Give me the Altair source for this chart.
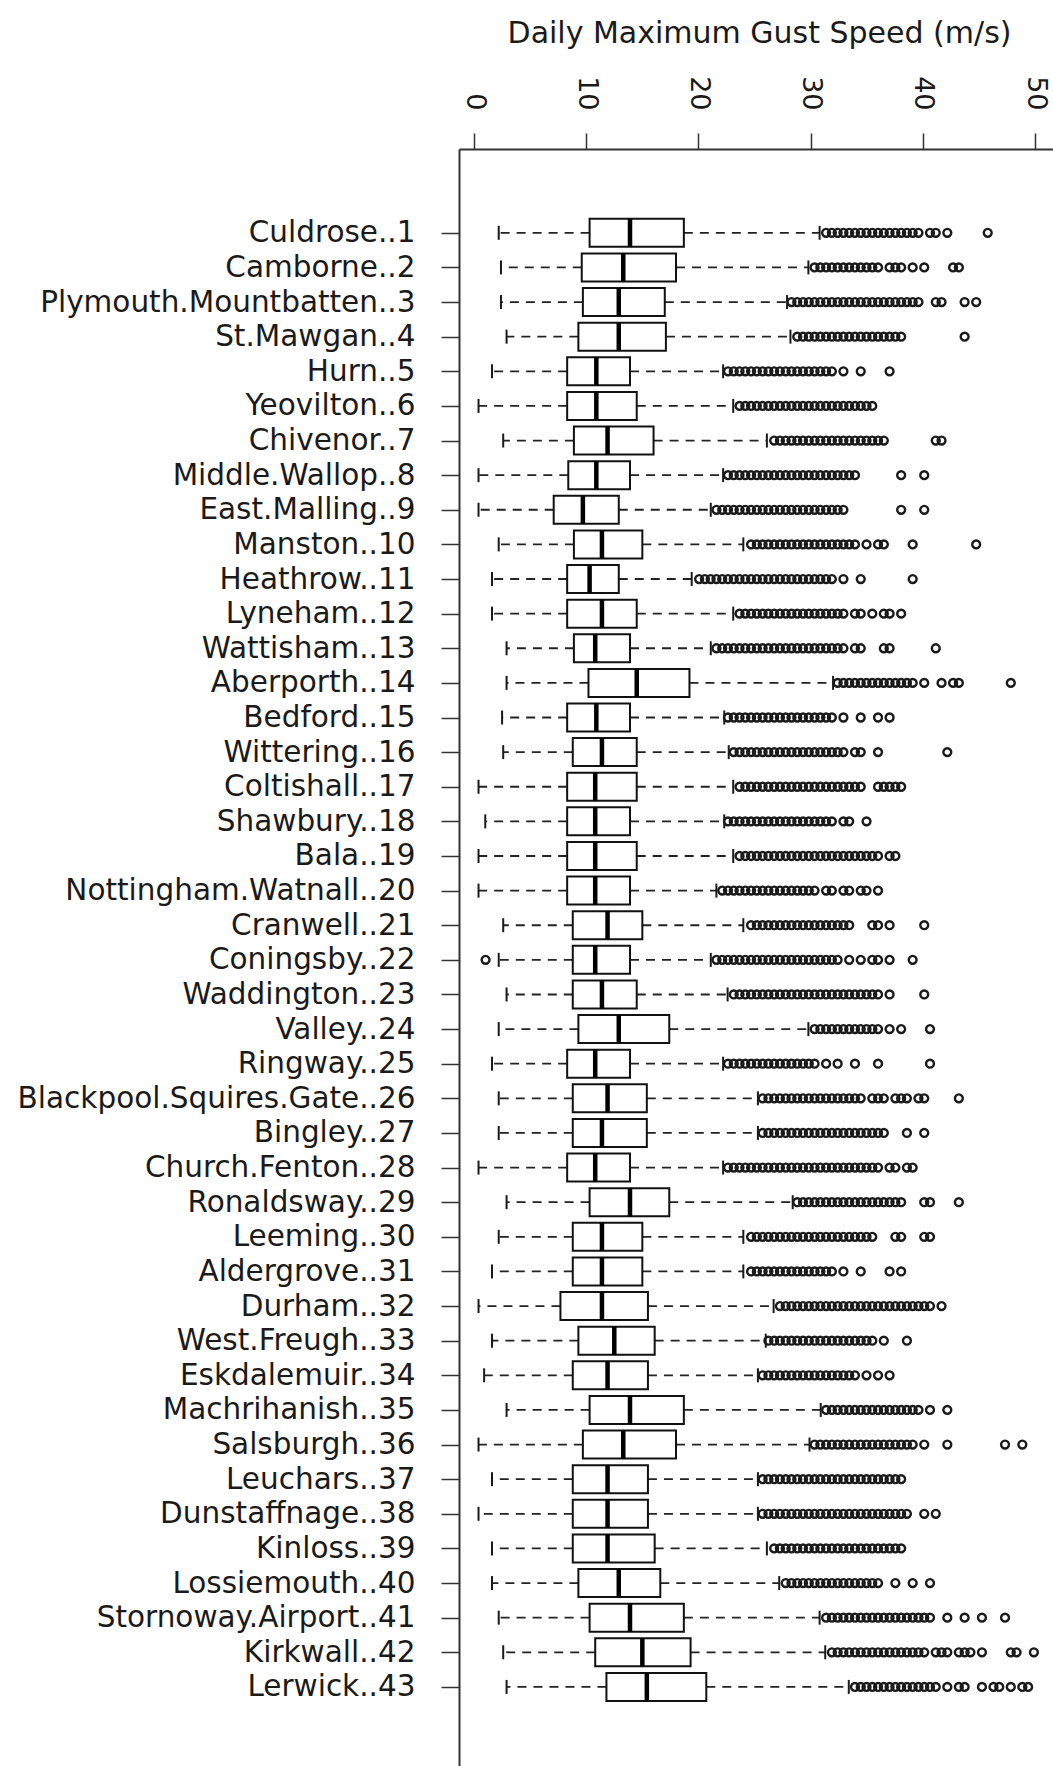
import altair as alt
import pandas as pd

# Daily maximum gust speed per UK station: box-plot summary (m/s)
KT_TO_MS = 0.5144

stations = [
    "Culdrose..1", "Camborne..2", "Plymouth.Mountbatten..3", "St.Mawgan..4",
    "Hurn..5", "Yeovilton..6", "Chivenor..7", "Middle.Wallop..8",
    "East.Malling..9", "Manston..10", "Heathrow..11", "Lyneham..12",
    "Wattisham..13", "Aberporth..14", "Bedford..15", "Wittering..16",
    "Coltishall..17", "Shawbury..18", "Bala..19", "Nottingham.Watnall..20",
    "Cranwell..21", "Coningsby..22", "Waddington..23", "Valley..24",
    "Ringway..25", "Blackpool.Squires.Gate..26", "Bingley..27",
    "Church.Fenton..28", "Ronaldsway..29", "Leeming..30", "Aldergrove..31",
    "Durham..32", "West.Freugh..33", "Eskdalemuir..34", "Machrihanish..35",
    "Salsburgh..36", "Leuchars..37", "Dunstaffnage..38", "Kinloss..39",
    "Lossiemouth..40", "Stornoway.Airport..41", "Kirkwall..42", "Lerwick..43",
]

lower_whisker = [2.2, 2.4, 2.4, 2.9, 1.6, 0.4, 2.6, 0.4, 0.4, 2.2, 1.6, 1.6,
                 2.9, 2.9, 2.5, 2.6, 0.4, 1.0, 0.4, 0.4, 2.6, 2.2, 2.9, 2.2,
                 1.6, 2.2, 2.2, 0.4, 2.9, 2.2, 1.6, 0.4, 1.6, 0.9, 2.9, 0.4,
                 1.6, 0.4, 1.6, 1.6, 2.2, 2.6, 2.9]
q1 = [10.3, 9.6, 9.7, 9.3, 8.3, 8.3, 8.9, 8.4, 7.1, 8.9, 8.3, 8.3,
      8.9, 10.2, 8.3, 8.8, 8.3, 8.3, 8.3, 8.3, 8.8, 8.8, 8.8, 9.3,
      8.3, 8.8, 8.8, 8.3, 10.3, 8.8, 8.8, 7.7, 9.3, 8.8, 10.3, 9.7,
      8.8, 8.8, 8.8, 9.3, 10.3, 10.8, 11.8]
median = [13.9, 13.3, 12.9, 12.9, 10.9, 10.9, 11.9, 10.9, 9.7, 11.4, 10.3, 11.4,
          10.8, 14.5, 10.9, 11.4, 10.8, 10.8, 10.8, 10.8, 11.9, 10.8, 11.4, 12.9,
          10.8, 11.9, 11.4, 10.8, 13.9, 11.4, 11.4, 11.4, 12.5, 11.9, 13.9, 13.3,
          11.9, 11.9, 11.9, 12.9, 13.9, 15.0, 15.4]
q3 = [18.7, 18.0, 17.0, 17.1, 13.9, 14.5, 16.0, 13.9, 12.9, 15.0, 12.9, 14.5,
      13.9, 19.2, 13.9, 14.5, 14.5, 13.9, 14.5, 13.9, 15.0, 13.9, 14.5, 17.4,
      13.9, 15.4, 15.4, 13.9, 17.4, 15.0, 15.0, 15.5, 16.1, 15.5, 18.7, 18.0,
      15.5, 15.5, 16.1, 16.6, 18.7, 19.3, 20.7]
upper_whisker = [30.8, 29.8, 27.9, 28.2, 22.2, 23.1, 26.1, 22.2, 21.1, 24.0, 19.4, 23.1,
                 21.1, 32.0, 22.3, 22.7, 23.1, 22.3, 23.1, 21.6, 24.0, 21.1, 22.6, 29.8,
                 22.2, 25.3, 25.3, 22.2, 28.4, 24.0, 24.0, 26.7, 26.0, 25.3, 30.9, 29.9,
                 25.3, 25.3, 26.1, 27.2, 30.8, 31.3, 33.4]

# Outlying daily gusts, recorded in whole knots
outliers_kt = [
    [61, 62, 63, 64, 65, 66, 67, 68, 69, 70, 71, 72, 73, 74, 75, 76, 77, 79, 80, 82, 89],
    [59, 60, 61, 62, 63, 64, 65, 66, 67, 68, 69, 70, 72, 73, 74, 76, 78, 83, 84],
    [55, 56, 57, 58, 59, 60, 61, 62, 63, 64, 65, 66, 67, 68, 69, 70, 71, 72, 73, 74, 75, 76, 77, 80, 81, 85, 87],
    [56, 57, 58, 59, 60, 61, 62, 63, 64, 65, 66, 67, 68, 69, 70, 71, 72, 73, 74, 85],
    [44, 45, 46, 47, 48, 49, 50, 51, 52, 53, 54, 55, 56, 57, 58, 59, 60, 61, 62, 64, 67, 72],
    [46, 47, 48, 49, 50, 51, 52, 53, 54, 55, 56, 57, 58, 59, 60, 61, 62, 63, 64, 65, 66, 67, 68, 69],
    [52, 53, 54, 55, 56, 57, 58, 59, 60, 61, 62, 63, 64, 65, 66, 67, 68, 69, 70, 71, 80, 81],
    [44, 45, 46, 47, 48, 49, 50, 51, 52, 53, 54, 55, 56, 57, 58, 59, 60, 61, 62, 63, 64, 65, 66, 74, 78],
    [42, 43, 44, 45, 46, 47, 48, 49, 50, 51, 52, 53, 54, 55, 56, 57, 58, 59, 60, 61, 62, 63, 64, 74, 78],
    [48, 49, 50, 51, 52, 53, 54, 55, 56, 57, 58, 59, 60, 61, 62, 63, 64, 65, 66, 68, 70, 71, 76, 87],
    [39, 40, 41, 42, 43, 44, 45, 46, 47, 48, 49, 50, 51, 52, 53, 54, 55, 56, 57, 58, 59, 60, 61, 62, 64, 67, 76],
    [46, 47, 48, 49, 50, 51, 52, 53, 54, 55, 56, 57, 58, 59, 60, 61, 62, 63, 64, 66, 67, 69, 71, 72, 74],
    [42, 43, 44, 45, 46, 47, 48, 49, 50, 51, 52, 53, 54, 55, 56, 57, 58, 59, 60, 61, 62, 63, 64, 66, 67, 71, 72, 80],
    [63, 64, 65, 66, 67, 68, 69, 70, 71, 72, 73, 74, 75, 76, 78, 81, 83, 84, 93],
    [44, 45, 46, 47, 48, 49, 50, 51, 52, 53, 54, 55, 56, 57, 58, 59, 60, 61, 62, 64, 67, 70, 72],
    [45, 46, 47, 48, 49, 50, 51, 52, 53, 54, 55, 56, 57, 58, 59, 60, 61, 62, 63, 64, 66, 67, 70, 82],
    [46, 47, 48, 49, 50, 51, 52, 53, 54, 55, 56, 57, 58, 59, 60, 61, 62, 63, 64, 65, 66, 67, 70, 71, 72, 73, 74],
    [44, 45, 46, 47, 48, 49, 50, 51, 52, 53, 54, 55, 56, 57, 58, 59, 60, 61, 62, 64, 65, 68],
    [46, 47, 48, 49, 50, 51, 52, 53, 54, 55, 56, 57, 58, 59, 60, 61, 62, 63, 64, 65, 66, 67, 68, 69, 70, 72, 73],
    [43, 44, 45, 46, 47, 48, 49, 50, 51, 52, 53, 54, 55, 56, 57, 58, 59, 61, 62, 64, 65, 67, 68, 70],
    [48, 49, 50, 51, 52, 53, 54, 55, 56, 57, 58, 59, 60, 61, 62, 63, 64, 65, 69, 70, 72, 78],
    [2, 42, 43, 44, 45, 46, 47, 48, 49, 50, 51, 52, 53, 54, 55, 56, 57, 58, 59, 60, 61, 62, 63, 65, 67, 69, 70, 72, 76],
    [45, 46, 47, 48, 49, 50, 51, 52, 53, 54, 55, 56, 57, 58, 59, 60, 61, 62, 63, 64, 65, 66, 67, 68, 69, 70, 72, 78],
    [59, 60, 61, 62, 63, 64, 65, 66, 67, 68, 69, 70, 72, 74, 79],
    [44, 45, 46, 47, 48, 49, 50, 51, 52, 53, 54, 55, 56, 57, 58, 59, 61, 63, 66, 70, 79],
    [50, 51, 52, 53, 54, 55, 56, 57, 58, 59, 60, 61, 62, 63, 64, 65, 66, 67, 69, 70, 71, 73, 74, 75, 77, 78, 84],
    [50, 51, 52, 53, 54, 55, 56, 57, 58, 59, 60, 61, 62, 63, 64, 65, 66, 67, 68, 69, 70, 71, 75, 78],
    [44, 45, 46, 47, 48, 49, 50, 51, 52, 53, 54, 55, 56, 57, 58, 59, 60, 61, 62, 63, 64, 65, 66, 67, 68, 69, 70, 72, 73, 75, 76],
    [56, 57, 58, 59, 60, 61, 62, 63, 64, 65, 66, 67, 68, 69, 70, 71, 72, 73, 74, 78, 79, 84],
    [48, 49, 50, 51, 52, 53, 54, 55, 56, 57, 58, 59, 60, 61, 62, 63, 64, 65, 66, 67, 68, 69, 73, 74, 78, 79],
    [48, 49, 50, 51, 52, 53, 54, 55, 56, 57, 58, 59, 60, 61, 62, 64, 67, 72, 74],
    [53, 54, 55, 56, 57, 58, 59, 60, 61, 62, 63, 64, 65, 66, 67, 68, 69, 70, 71, 72, 73, 74, 75, 76, 77, 78, 79, 81],
    [51, 52, 53, 54, 55, 56, 57, 58, 59, 60, 61, 62, 63, 64, 65, 66, 67, 68, 69, 71, 75],
    [50, 51, 52, 53, 54, 55, 56, 57, 58, 59, 60, 61, 62, 63, 64, 65, 66, 68, 70, 72],
    [61, 62, 63, 64, 65, 66, 67, 68, 69, 70, 71, 72, 73, 74, 75, 76, 77, 79, 82],
    [59, 60, 61, 62, 63, 64, 65, 66, 67, 68, 69, 70, 71, 72, 73, 74, 75, 76, 78, 82, 92, 95],
    [50, 51, 52, 53, 54, 55, 56, 57, 58, 59, 60, 61, 62, 63, 64, 65, 66, 67, 68, 69, 70, 71, 72, 73, 74],
    [50, 51, 52, 53, 54, 55, 56, 57, 58, 59, 60, 61, 62, 63, 64, 65, 66, 67, 68, 69, 70, 71, 72, 73, 74, 75, 78, 80],
    [52, 53, 54, 55, 56, 57, 58, 59, 60, 61, 62, 63, 64, 65, 66, 67, 68, 69, 70, 71, 72, 73, 74],
    [54, 55, 56, 57, 58, 59, 60, 61, 62, 63, 64, 65, 66, 67, 68, 69, 70, 73, 76, 79],
    [61, 62, 63, 64, 65, 66, 67, 68, 69, 70, 71, 72, 73, 74, 75, 76, 77, 78, 79, 82, 85, 88, 92],
    [62, 63, 64, 65, 66, 67, 68, 69, 70, 71, 72, 73, 74, 75, 76, 77, 78, 80, 81, 82, 84, 85, 86, 88, 93, 94, 97],
    [66, 67, 68, 69, 70, 71, 72, 73, 74, 75, 76, 77, 78, 79, 80, 82, 84, 85, 88, 90, 91, 93, 95, 96],
]

station_no = list(range(1, len(stations) + 1))
stats = pd.DataFrame({
    "no": station_no, "station": stations, "lw": lower_whisker,
    "q1": q1, "med": median, "q3": q3, "uw": upper_whisker,
})
outliers = pd.DataFrame(
    [(i + 1, kt * KT_TO_MS) for i, vals in enumerate(outliers_kt) for kt in vals],
    columns=["no", "gust"],
)

INK = "#1a1a1a"
x_scale = alt.Scale(domain=[-1.34, 51.6], nice=False, zero=False)
y_scale = alt.Scale(domain=[-1.276, 45.14], reverse=True, nice=False, zero=False)

label_expr = "[" + ",".join(f"'{s}'" for s in stations) + "][datum.value - 1]"

x_axis = alt.Axis(
    orient="top", values=[0, 10, 20, 30, 40, 50], labelAngle=90,
    labelAlign="right", labelBaseline="middle", labelFontSize=27,
    labelPadding=23, tickSize=16, tickWidth=1.5, domainWidth=2, grid=False,
    labelFlush=False, labelOverlap=False,
    title="Daily Maximum Gust Speed (m/s)", titleFontSize=30,
    titleFontWeight="normal", titleY=-107, titleX=300,
    titleBaseline="alphabetic", titleAlign="center",
)
y_axis = alt.Axis(
    values=station_no, labelExpr=label_expr, labelFontSize=29.5, labelLimit=600,
    labelPadding=26, tickSize=18, tickWidth=1.5, domainWidth=2, grid=False,
    labelOverlap=False, labelFlush=False, title="",
)


def xq(field):
    return alt.X(f"{field}:Q", scale=x_scale, axis=x_axis)


y_enc = alt.Y("no:Q", scale=y_scale, axis=y_axis)
base = alt.Chart(stats)
dash = dict(color="#222222", strokeWidth=1.8, strokeDash=[9, 7])

whisker_lo = base.mark_rule(**dash).encode(x=xq("q1"), x2="lw:Q", y=y_enc)
whisker_hi = base.mark_rule(**dash).encode(x=xq("q3"), x2="uw:Q", y=y_enc)
staple_lo = base.mark_tick(orient="vertical", size=14, thickness=2, color=INK, opacity=1).encode(
    x=xq("lw"), y=y_enc)
staple_hi = base.mark_tick(orient="vertical", size=14, thickness=2, color=INK, opacity=1).encode(
    x=xq("uw"), y=y_enc)
boxes = base.mark_bar(size=28, orient="horizontal", fill="white", stroke="#111111",
                      strokeWidth=2, opacity=1).encode(x=xq("q1"), x2="q3:Q", y=y_enc)
medians = base.mark_tick(orient="vertical", size=28, thickness=4.5, color="#000000", opacity=1).encode(
    x=xq("med"), y=y_enc)
points = alt.Chart(outliers).mark_point(
    shape="circle", size=62, filled=False, strokeWidth=2.4, color=INK, opacity=1,
).encode(x=xq("gust"), y=y_enc)

chart = (
    alt.layer(whisker_lo, whisker_hi, staple_lo, staple_hi, boxes, medians, points)
    .properties(
        width=594, height=1617,
        autosize=alt.AutoSizeParams(type="none"),
        padding={"left": 459, "top": 149, "right": 0, "bottom": 0},
        background="white",
    )
    .configure_view(stroke=None)
    .configure_axis(
        labelFont="DejaVu Sans", titleFont="DejaVu Sans",
        labelColor=INK, titleColor=INK, domainColor="#333333", tickColor="#333333",
    )
)

chart.save("out.html", embed_options={"renderer": "svg", "actions": False})
